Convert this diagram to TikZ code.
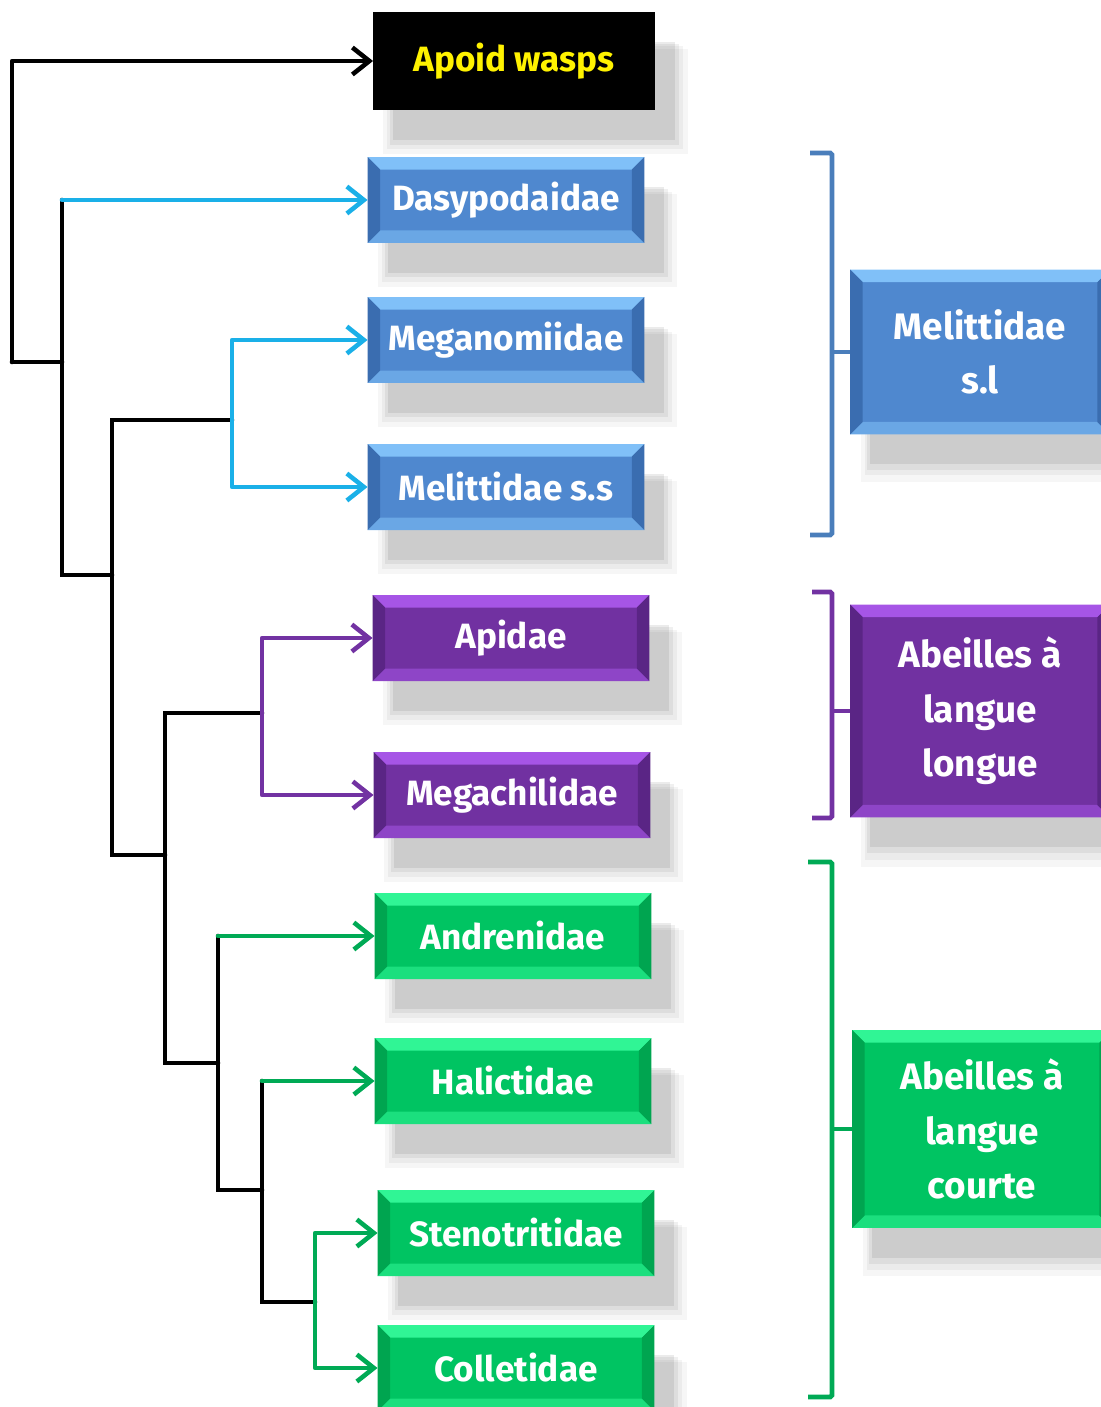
\documentclass[tikz,border=0pt]{standalone}
\usepackage{fontspec}
\setmainfont{Fira Sans}
\usetikzlibrary{arrows.meta, shadows, positioning}
\definecolor{bluM}{HTML}{4F88CF}
\definecolor{bluL}{HTML}{80C0F8}
\definecolor{bluD}{HTML}{3A6DB0}
\definecolor{bluB}{HTML}{4A7EBB}
\definecolor{cyn}{HTML}{1AB0E8}
\definecolor{purM}{HTML}{7131A1}
\definecolor{purL}{HTML}{A655E6}
\definecolor{purD}{HTML}{5A2585}
\definecolor{purB}{HTML}{7232A2}
\definecolor{grnM}{HTML}{00C462}
\definecolor{grnL}{HTML}{30F595}
\definecolor{grnD}{HTML}{00A550}
\definecolor{grnB}{HTML}{00AA55}

\begin{document}
\begin{tikzpicture}[
x = 0.02cm, y = -0.02cm,
  shd/.style = {general shadow={fill=black, opacity=.035, shadow xshift=4mm,
                                shadow yshift=-7.5mm, shadow scale=1.08},
                general shadow={fill=black, opacity=.045, shadow xshift=4mm,
                                shadow yshift=-7mm, shadow scale=1.05},
                general shadow={fill=black, opacity=.06, shadow xshift=4mm,
                                shadow yshift=-6.5mm, shadow scale=1.025},
                general shadow={fill=black, opacity=.08, shadow xshift=4mm,
                                shadow yshift=-6mm}},
bevel/.style = {fill=#1M, path picture={
                \path (path picture bounding box.north west) coordinate (nw)
                      (path picture bounding box.south east) coordinate (se);
                \fill[#1L] (nw) -- (nw -| se) -- ++(-2.5mm,-2.5mm)
                           -- ([shift={(2.5mm,-2.5mm)}]nw) -- cycle;
                \fill[#1L!55!#1M] (se) -- (se -| nw) -- ++(2.5mm,2.5mm)
                           -- ([shift={(-2.5mm,2.5mm)}]se) -- cycle;
                \fill[#1D] (nw) -- ++(2.5mm,-2.5mm)
                           -- ([shift={(2.5mm,2.5mm)}]se -| nw) -- (se -| nw) -- cycle;
                \fill[#1D] (se) -- ++(-2.5mm,2.5mm)
                           -- ([shift={(-2.5mm,-2.5mm)}]nw -| se) -- (nw -| se) -- cycle;}},
  box/.style = {bevel=#1, shd,
                font=\fontsize{20}{31}\selectfont\bfseries,
                text=white, align=center,
                minimum width=55.4mm, minimum height=17.2mm,
                inner sep=0pt, outer sep=0pt},
  grp/.style = {box=#1, minimum width=52mm,
                font=\fontsize{21}{31}\selectfont\bfseries},
 wasp/.style = {shd, fill=black, text=yellow,
                font=\fontsize{20}{31}\selectfont\bfseries,
                minimum width=56.4mm, minimum height=19.6mm,
                inner sep=0pt, outer sep=0pt},
  arr/.style = {draw=#1, line width=2.6pt, line cap=round, line join=round,
                -{Straight Barb[length=3.4mm, width=5.4mm]}},
  brn/.style = {draw=black, line width=2.6pt, line cap=round},
  brk/.style = {draw=#1, line width=2.8pt, rounded corners=1pt}
                        ]
\useasboundingbox (0,0) rectangle (1101,1407);
    % families
\node (apo)  [wasp]     at (514,61)    {Apoid wasps};
\node (dasy) [box=blu]  at (506,200)   {Dasypodaidae};
\node (mega) [box=blu]  at (506,340)   {Meganomiidae};
\node (mels) [box=blu]  at (506,487)   {Melittidae s.s};
\node (api)  [box=pur]  at (511,638)   {Apidae};
\node (megc) [box=pur]  at (512,795)   {Megachilidae};
\node (andr) [box=grn]  at (513,936)   {Andrenidae};
\node (hali) [box=grn]  at (513,1081)  {Halictidae};
\node (sten) [box=grn]  at (516,1233)  {Stenotritidae};
\node (coll) [box=grn]  at (516,1368)  {Colletidae};
    % groups
\node (msl)  [grp=blu, minimum height=33mm]   at (980,352)  {Melittidae\\s.l};
\node (all)  [grp=pur, minimum height=42.6mm] at (980,711)  {Abeilles à\\langue\\longue};
\node (alc)  [grp=grn, minimum height=39.6mm] at (982,1129) {Abeilles à\\langue\\courte};
    % branch points
\coordinate (r0) at (12,362);
\coordinate (r1) at (62,575);
\coordinate (r2) at (112,855);
\coordinate (r3) at (165,1063);
\coordinate (r4) at (218,1190);
\coordinate (r5) at (262,1302);
\coordinate (c1) at (232,420);
\coordinate (c2) at (262,713);
\coordinate (c3) at (315,1302);
    % tree
\draw[arr=black] (r0) |- (apo.west);
\draw[brn] (r0) -- (r0 -| r1);
\draw[brn] (r1 |- dasy) -- (r1) -- (r1 -| r2);
\draw[arr=cyn] (r1 |- dasy) -- (dasy.west);
\draw[brn] (c1) -- (r2 |- c1) -- (r2) -- (r2 -| r3);
\draw[arr=cyn] (c1) |- (mega.west);
\draw[arr=cyn] (c1) |- (mels.west);
\draw[brn] (c2) -- (r3 |- c2) -- (r3) -- (r3 -| r4);
\draw[arr=purB] (c2) |- (api.west);
\draw[arr=purB] (c2) |- (megc.west);
\draw[brn] (r4 |- andr) -- (r4) -- (r4 -| r5);
\draw[arr=grnB] (r4 |- andr) -- (andr.west);
\draw[brn] (r5 |- hali) -- (r5) -- (c3);
\draw[arr=grnB] (r5 |- hali) -- (hali.west);
\draw[arr=grnB] (c3) |- (sten.west);
\draw[arr=grnB] (c3) |- (coll.west);
    % brackets
\coordinate (k1t) at (832,153);  \coordinate (k1b) at (832,535);
\coordinate (k2t) at (832,592);  \coordinate (k2b) at (832,818);
\coordinate (k3t) at (832,862);  \coordinate (k3b) at (832,1397);
\draw[brk=bluB] ([xshift=-4.4mm]k1t) -- (k1t) -- (k1b) -- ([xshift=-4.4mm]k1b);
\draw[brk=bluB] (k1t |- msl) -- (msl.west);
\draw[brk=purB] ([xshift=-4mm]k2t) -- (k2t) -- (k2b) -- ([xshift=-4mm]k2b);
\draw[brk=purB] (k2t |- all) -- (all.west);
\draw[brk=grnB] ([xshift=-4.8mm]k3t) -- (k3t) -- (k3b) -- ([xshift=-4.8mm]k3b);
\draw[brk=grnB] (k3t |- alc) -- (alc.west);
\end{tikzpicture}
\end{document}
